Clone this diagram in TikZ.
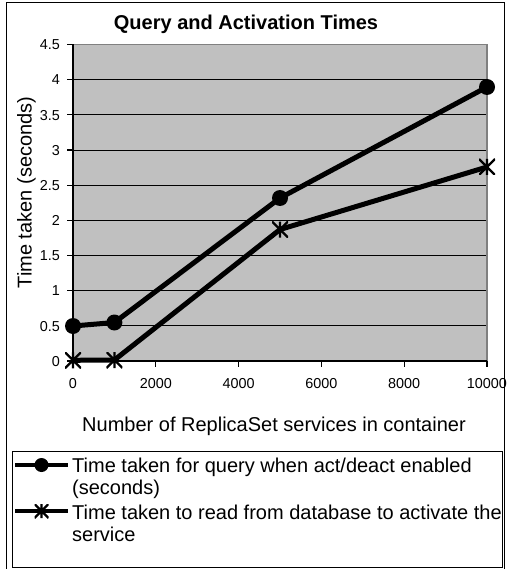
\documentclass[tikz,border=0pt]{standalone}
\usepackage{fontspec}
\setmainfont{Liberation Sans}
\definecolor{plotbg}{HTML}{C0C0C0}
\definecolor{framegray}{HTML}{808080}
\begin{document}
\begin{tikzpicture}[x=1pt,y=-1pt,
  ticklbl/.style={font=\fontsize{14.4}{17}\selectfont, inner sep=0pt},
  biglbl/.style={font=\fontsize{20}{24}\selectfont, inner sep=0pt},
  gridln/.style={black, line width=0.9pt},
  axisln/.style={black, line width=1.2pt},
  series/.style={line width=5pt, line join=round},
  legline/.style={line width=4pt},
  dotmark/.style={circle, fill=black, inner sep=0pt, minimum size=16pt},
  starmark/.style={inner sep=0pt, minimum size=16pt,
    path picture={\draw[line width=2.3pt]
      (path picture bounding box.north west) -- (path picture bounding box.south east)
      (path picture bounding box.north east) -- (path picture bounding box.south west)
      (path picture bounding box.north) -- (path picture bounding box.south);}},
]
\useasboundingbox (0,0) rectangle (507,569);
% outer frame
\draw[black, line width=1pt] (6.5,569) -- (6.5,2.5) -- (504,2.5) -- (504,569);
% title
\node[biglbl, font=\fontsize{20}{24}\selectfont\bfseries, anchor=base] (title) at (246,29.5) {Query and Activation Times};
% plot area
\fill[plotbg] (73,44.5) rectangle (487,361);
\foreach \v [count=\i] in {0.5,1,1.5,2,2.5,3,3.5,4} {
  \pgfmathsetmacro{\yy}{361-\v*70.33}
  \draw[gridln] (73,\yy) -- (487,\yy);
}
\draw[framegray, line width=1.5pt] (73,44.5) -- (487,44.5) -- (487,361);
\draw[axisln] (73,44.5) -- (73,361) -- (487,361);
% y ticks
\foreach \v [count=\i] in {0,0.5,1,1.5,2,2.5,3,3.5,4,4.5} {
  \pgfmathsetmacro{\yy}{361-\v*70.33}
  \draw[axisln] (67,\yy) -- (73,\yy);
  \node[ticklbl, anchor=base east] (yl\i) at (60,\yy+5.2) {\v};
}
% x ticks
\foreach \v [count=\i] in {0,2000,4000,6000,8000,10000} {
  \pgfmathsetmacro{\xx}{73+\v*0.0414}
  \draw[axisln] (\xx,361) -- (\xx,367);
  \node[ticklbl, anchor=base] (xl\i) at (\xx,388.5) {\v};
}
% axis titles
\node[biglbl, rotate=90, anchor=base] (ytitle) at (31.5,192.5) {Time taken (seconds)};
\node[biglbl, anchor=base] (xtitle) at (274,431) {Number of ReplicaSet services in container};
% data
\coordinate (a1) at (73,326);
\coordinate (a2) at (114.4,322.5);
\coordinate (a3) at (280,198);
\coordinate (a4) at (487,87);
\coordinate (b1) at (73,360.3);
\coordinate (b2) at (114.4,360);
\coordinate (b3) at (280,229.5);
\coordinate (b4) at (487,167);
\draw[series] (a1) -- (a2) -- (a3) -- (a4);
\draw[series] (b1) -- (b2) -- (b3) -- (b4);
\foreach \p in {1,2,3,4} {
  \node[dotmark] (ma\p) at (a\p) {};
  \node[starmark] (mb\p) at (b\p) {};
}
% legend
\draw[black, line width=1pt] (12,451) rectangle (502,567);
\coordinate (la1) at (15,465);
\coordinate (la2) at (68,465);
\draw[legline] (la1) -- (la2);
\node[dotmark, minimum size=14pt] (lma) at (41.5,465) {};
\coordinate (lb1) at (15,511);
\coordinate (lb2) at (68,511);
\draw[legline] (lb1) -- (lb2);
\node[starmark, minimum size=14pt] (lmb) at (41.5,511) {};
\node[biglbl, anchor=base west] (lt1) at (72,472) {Time taken for query when act/deact enabled};
\node[biglbl, anchor=base west] (lt2) at (72,494) {(seconds)};
\node[biglbl, anchor=base west] (lt3) at (72,519) {Time taken to read from database to activate the};
\node[biglbl, anchor=base west] (lt4) at (72,541) {service};
\end{tikzpicture}
\end{document}
